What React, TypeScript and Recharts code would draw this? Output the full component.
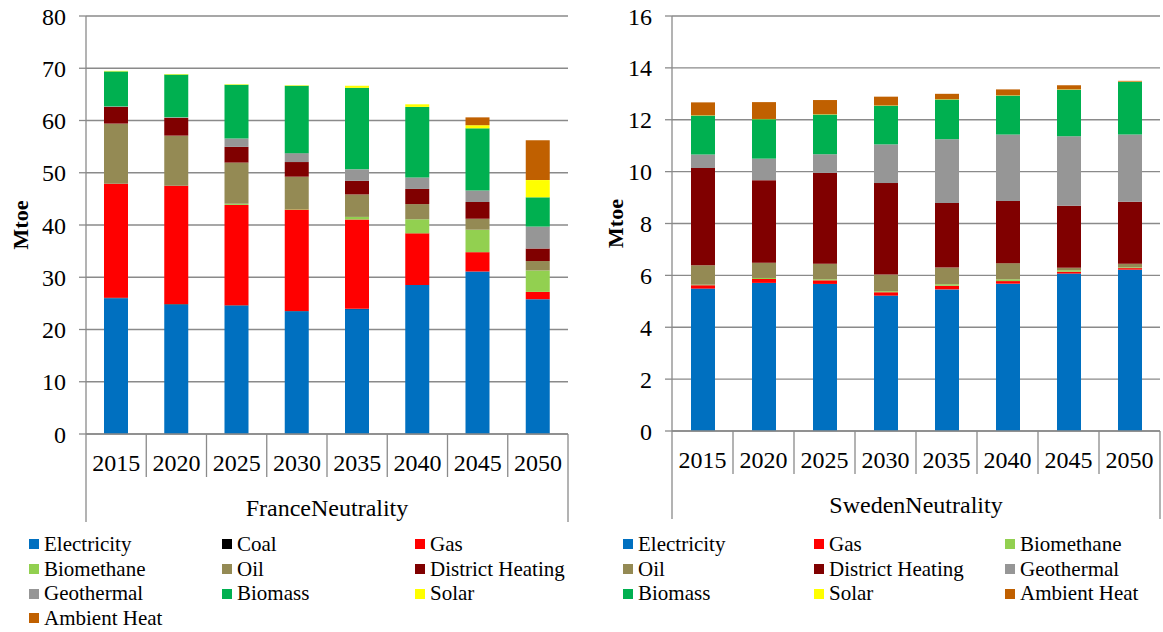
import React from 'react';
import { BarChart, Bar, XAxis, YAxis, CartesianGrid } from 'recharts';

const FONT = 'Liberation Serif';
const GRID = '#8a8a8a';

const years = ['2015', '2020', '2025', '2030', '2035', '2040', '2045', '2050'];

// France, Mtoe
const frElectricity = [26.0, 24.8, 24.6, 23.5, 23.9, 28.5, 31.1, 25.8];
const frCoal = [0.1, 0.1, 0.05, 0.05, 0.05, 0, 0, 0];
const frGas = [21.8, 22.6, 19.2, 19.4, 17.1, 9.9, 3.7, 1.4];
const frBiomethane = [0, 0, 0.2, 0.1, 0.5, 2.7, 4.3, 4.1];
const frOil = [11.5, 9.6, 7.9, 6.2, 4.3, 2.9, 2.1, 1.8];
const frDistrictHeating = [3.2, 3.4, 3.0, 2.8, 2.6, 2.9, 3.2, 2.4];
const frGeothermal = [0.1, 0.1, 1.6, 1.7, 2.2, 2.2, 2.2, 4.2];
const frBiomass = [6.7, 8.2, 10.3, 12.9, 15.6, 13.5, 11.9, 5.6];
const frSolar = [0.1, 0.1, 0.1, 0.1, 0.4, 0.5, 0.6, 3.3];
const frAmbientHeat = [0, 0, 0, 0, 0, 0, 1.5, 7.6];

// Sweden, Mtoe
const seElectricity = [5.49, 5.71, 5.67, 5.22, 5.46, 5.68, 6.07, 6.22];
const seGas = [0.13, 0.15, 0.14, 0.13, 0.14, 0.1, 0.07, 0.06];
const seBiomethane = [0.02, 0.04, 0.04, 0.04, 0.06, 0.07, 0.06, 0.03];
const seOil = [0.75, 0.59, 0.6, 0.64, 0.64, 0.62, 0.09, 0.14];
const seDistrictHeating = [3.75, 3.18, 3.5, 3.53, 2.49, 2.4, 2.39, 2.39];
const seGeothermal = [0.52, 0.83, 0.72, 1.49, 2.46, 2.56, 2.68, 2.59];
const seBiomass = [1.5, 1.52, 1.53, 1.49, 1.53, 1.5, 1.8, 2.03];
const seSolar = [0.01, 0.01, 0.01, 0.01, 0.01, 0.01, 0.01, 0.01];
const seAmbientHeat = [0.5, 0.65, 0.55, 0.34, 0.21, 0.23, 0.16, 0.03];

const frTicks = [0, 10, 20, 30, 40, 50, 60, 70, 80];
const seTicks = [0, 2, 4, 6, 8, 10, 12, 14, 16];

const colors: Record<string, string> = {
  'Electricity': '#0070c0',
  'Coal': '#000000',
  'Gas': '#ff0000',
  'Biomethane': '#92d050',
  'Oil': '#948a54',
  'District Heating': '#800000',
  'Geothermal': '#969696',
  'Biomass': '#00b050',
  'Solar': '#ffff00',
  'Ambient Heat': '#c06000',
};

const frSeries: [string, number[]][] = [
  ['Electricity', frElectricity], ['Coal', frCoal], ['Gas', frGas], ['Biomethane', frBiomethane],
  ['Oil', frOil], ['District Heating', frDistrictHeating], ['Geothermal', frGeothermal],
  ['Biomass', frBiomass], ['Solar', frSolar], ['Ambient Heat', frAmbientHeat],
];
const seSeries: [string, number[]][] = [
  ['Electricity', seElectricity], ['Gas', seGas], ['Biomethane', seBiomethane],
  ['Oil', seOil], ['District Heating', seDistrictHeating], ['Geothermal', seGeothermal],
  ['Biomass', seBiomass], ['Solar', seSolar], ['Ambient Heat', seAmbientHeat],
];

const toRows = (series: [string, number[]][]) =>
  years.map((year, i) => {
    const row: Record<string, string | number> = { year };
    series.forEach(([name, vals]) => { row[name] = vals[i]; });
    return row;
  });

const frData = toRows(frSeries);
const seData = toRows(seSeries);

// two-level category axis: years with separators, then the scenario name
function GroupTick(props: any) {
  const { x, y, payload, index, visibleTicksCount, width, group, plotWidth } = props;
  const n = visibleTicksCount || years.length;
  const w = typeof width === 'number' ? width : plotWidth;
  const band = w / n;
  const left = x - band / 2;
  return (
    <g>
      <line x1={left} x2={left} y1={y} y2={y + (index === 0 ? 88 : 43)} stroke={GRID} strokeWidth={1.3} />
      {index === n - 1 && (
        <line x1={left + band} x2={left + band} y1={y} y2={y + 88} stroke={GRID} strokeWidth={1.3} />
      )}
      <text x={x} y={y + 37} textAnchor="middle" fontSize={24} fontFamily={FONT} fill="#000">
        {payload.value}
      </text>
      {index === 0 && (
        <text x={left + w / 2} y={y + 82} textAnchor="middle" fontSize={24} fontFamily={FONT} fill="#000">
          {group}
        </text>
      )}
    </g>
  );
}

function YLabel(props: any) {
  const { viewBox, dx } = props;
  const cx = viewBox.x + dx;
  const cy = viewBox.y + viewBox.height / 2;
  return (
    <text x={cx} y={cy} transform={`rotate(-90 ${cx} ${cy})`} textAnchor="middle" dominantBaseline="central"
      fontSize={22} fontWeight="bold" fontFamily={FONT} fill="#000">Mtoe</text>
  );
}

function Panel(props: {
  data: any[]; series: [string, number[]][]; ticks: number[]; group: string;
  width: number; height: number; yWidth: number; right: number; labelDx: number;
}) {
  const { data, series, ticks, group, width, height, yWidth, right, labelDx } = props;
  const plotWidth = width - yWidth - right;
  return (
    <BarChart width={width} height={height} data={data} margin={{ top: 16, right, left: 0, bottom: 0 }} barSize={24}
      style={{ fontFamily: FONT }}>
      <CartesianGrid vertical={false} stroke={GRID} strokeWidth={1.3} />
      <XAxis dataKey="year" height={96} tickSize={0} tickMargin={0} axisLine={{ stroke: GRID, strokeWidth: 1.3 }}
        interval={0} tick={(p: any) => <GroupTick {...p} group={group} plotWidth={plotWidth} />} />
      <YAxis width={yWidth} domain={[ticks[0], ticks[ticks.length - 1]]} ticks={ticks} interval={0}
        tickSize={7} tickMargin={13} axisLine={{ stroke: GRID, strokeWidth: 1.3 }} tickLine={{ stroke: GRID, strokeWidth: 1.3 }}
        tick={{ fill: '#000', fontSize: 24, fontFamily: FONT }}
        label={(p: any) => <YLabel {...p} dx={labelDx} />} />
      {series.map(([name]) => (
        <Bar key={name} dataKey={name} stackId="a" fill={colors[name]} isAnimationActive={false} />
      ))}
    </BarChart>
  );
}

function LegendBox(props: { names: string[]; left: number; colWidth: number }) {
  const { names, left, colWidth } = props;
  return (
    <div style={{
      position: 'absolute', left, top: 532, display: 'grid',
      gridTemplateColumns: `repeat(3, ${colWidth}px)`, gridAutoRows: '24.7px',
      fontFamily: FONT, fontSize: 21, color: '#000',
    }}>
      {names.map((name) => (
        <div key={name} style={{ display: 'flex', alignItems: 'center', whiteSpace: 'nowrap' }}>
          <span style={{ width: 10, height: 10, background: colors[name], marginRight: 5, flex: 'none' }} />
          <span style={{ lineHeight: '24.7px' }}>{name}</span>
        </div>
      ))}
    </div>
  );
}

export default function App() {
  return (
    <div style={{ position: 'absolute', left: 0, top: 0, width: 1163, height: 632, background: '#fff', overflow: 'hidden', fontFamily: FONT }}>
      <div style={{ position: 'absolute', left: 0, top: 0 }}>
        <Panel data={frData} series={frSeries} ticks={frTicks} group="FranceNeutrality"
          width={600} height={530} yWidth={86} right={32} labelDx={20} />
      </div>
      <div style={{ position: 'absolute', left: 580, top: 0 }}>
        <Panel data={seData} series={seSeries} ticks={seTicks} group="SwedenNeutrality"
          width={583} height={527} yWidth={92} right={3} labelDx={35} />
      </div>
      <LegendBox names={frSeries.map(([n]) => n)} left={29} colWidth={193} />
      <LegendBox names={seSeries.map(([n]) => n)} left={623} colWidth={191} />
    </div>
  );
}
